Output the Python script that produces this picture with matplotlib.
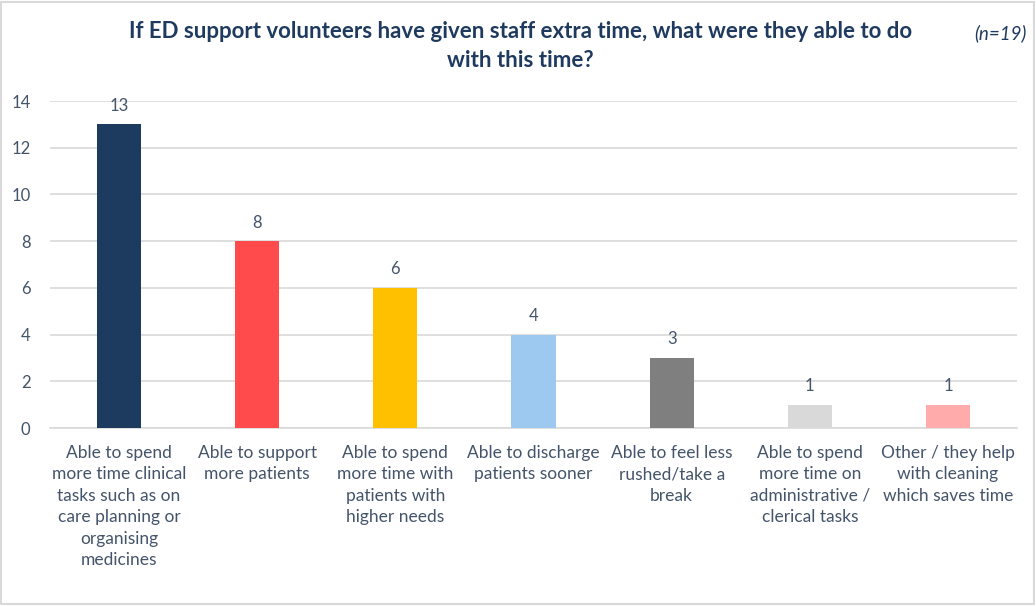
import matplotlib
matplotlib.use('Agg')
import matplotlib.pyplot as plt
from matplotlib.patches import Rectangle

# Responses to the volunteer extra-time question
categories = [
    'Able to spend\nmore time clinical\ntasks such as on\ncare planning or\norganising\nmedicines',
    'Able to support\nmore patients',
    'Able to spend\nmore time with\npatients with\nhigher needs',
    'Able to discharge\npatients sooner',
    'Able to feel less\nrushed/take a\nbreak',
    'Able to spend\nmore time on\nadministrative /\nclerical tasks',
    'Other / they help\nwith cleaning\nwhich saves time',
]
counts = [13, 8, 6, 4, 3, 1, 1]
bar_colors = ['#1D3A5F', '#FF4B4B', '#FFC000', '#9DC9F0', '#7F7F7F', '#D9D9D9', '#FFABAB']
y_ticks = [0, 2, 4, 6, 8, 10, 12, 14]

navy = '#1F3A5F'
text_col = '#44546A'
plt.rcParams['font.family'] = ['Lato', 'DejaVu Sans']

fig = plt.figure(figsize=(10.36, 6.06), dpi=100)
ax = fig.add_axes([0.0483, 0.2937, 0.9334, 0.5396])

x = list(range(len(counts)))
ax.bar(x, counts, width=0.32, color=bar_colors, zorder=3)
for xi, v in zip(x, counts):
    ax.text(xi, v + 0.45, str(v), ha='center', va='bottom', fontsize=12, color=text_col)

ax.set_xlim(-0.5, len(counts) - 0.5)
ax.set_ylim(0, 14)
ax.set_yticks(y_ticks)
ax.set_yticklabels([str(t) for t in y_ticks], fontsize=12, color=text_col)
ax.set_xticks(x)
ax.set_xticklabels(categories, fontsize=12.5, color=text_col, linespacing=1.42, va='top')
ax.tick_params(axis='both', length=0)
ax.tick_params(axis='x', pad=12)
ax.tick_params(axis='y', pad=14)
ax.yaxis.grid(True, color='#D9D9D9', linewidth=1.2, zorder=0)
for s in ['top', 'right', 'left']:
    ax.spines[s].set_visible(False)
ax.spines['bottom'].set_color('#D9D9D9')
ax.spines['bottom'].set_linewidth(1.2)

fig.text(0.502, 0.948, 'If ED support volunteers have given staff extra time, what were they able to do',
         ha='center', va='center', fontsize=16, fontweight='bold', color=navy)
fig.text(0.502, 0.9, 'with this time?',
         ha='center', va='center', fontsize=16, fontweight='bold', color=navy)
fig.text(0.966, 0.945, '(n=19)', ha='center', va='center', fontsize=13.5,
         style='italic', color=navy)

# light frame around the chart area
fig.patches.append(Rectangle((0.001, 0.003), 0.997, 0.994, transform=fig.transFigure,
                             fill=False, edgecolor='#D9D9D9', linewidth=1.5))

fig.savefig('out.png', dpi=100)
